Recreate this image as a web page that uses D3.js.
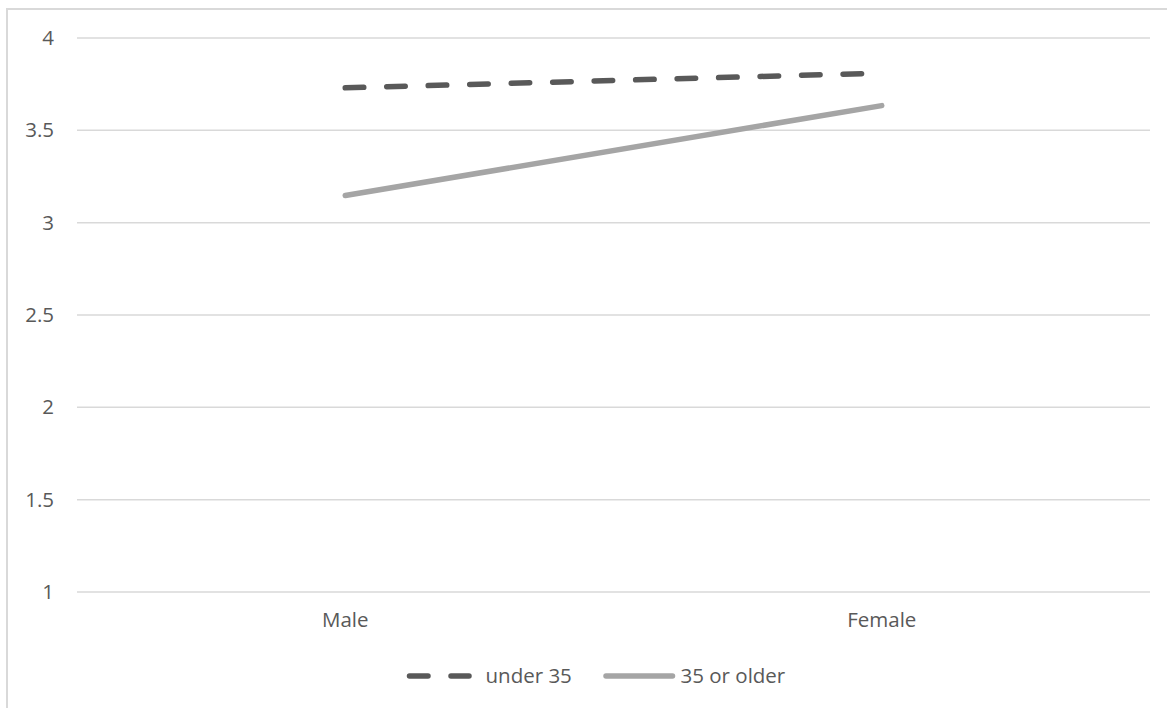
<!DOCTYPE html>
<html><head><meta charset="utf-8">
<script src="https://cdn.jsdelivr.net/npm/d3@7"></script>
<style>html,body{margin:0;padding:0;background:#fff;}</style>
</head><body>
<svg id="c" width="1167" height="708"></svg>
<script>
const categories = ["Male", "Female"];
const seriesNames = ["under 35", "35 or older"];
const under35 = [3.73, 3.81];
const older35 = [3.147, 3.634];
const yTicks = [1, 1.5, 2, 2.5, 3, 3.5, 4];

const svg = d3.select("#c");
const font = "'Open Sans', sans-serif";
const textColor = "#595959";
const fs = 20.5;

// border
svg.append("rect").attr("x", 7).attr("y", 9).attr("width", 1200).attr("height", 800)
  .attr("fill", "none").attr("stroke", "#D9D9D9").attr("stroke-width", 2);

const x = d3.scaleBand().domain(categories).range([77, 1150]).paddingInner(0).paddingOuter(0);
const y = d3.scaleLinear().domain([1, 4]).range([592, 38]);

// gridlines
svg.append("g").selectAll("line").data(yTicks).join("line")
  .attr("x1", 77).attr("x2", 1150)
  .attr("y1", d => y(d)).attr("y2", d => y(d))
  .attr("stroke", "#D9D9D9").attr("stroke-width", 1.5);

// y axis labels
const yAxis = d3.axisLeft(y).tickValues(yTicks).tickSize(0).tickPadding(0).tickFormat(d3.format("~g"));
const ya = svg.append("g").attr("transform", "translate(54,0)").call(yAxis);
ya.select(".domain").remove();
ya.selectAll("text").attr("font-family", font).attr("font-size", fs).attr("fill", textColor);

// x axis labels
const xAxis = d3.axisBottom(x).tickSize(0).tickPadding(0);
const xa = svg.append("g").attr("transform", "translate(0,612)").call(xAxis);
xa.select(".domain").remove();
xa.selectAll("text").attr("font-family", font).attr("font-size", fs).attr("fill", textColor);

const cx = d => x(d) + x.bandwidth() / 2;
const line = d3.line().x((d, i) => cx(categories[i])).y(d => y(d));

const styles = [
  { data: under35, color: "#595959", dash: "18.5,23" },
  { data: older35, color: "#A5A5A5", dash: null }
];

styles.forEach(s => {
  svg.append("path").datum(s.data).attr("d", line)
    .attr("fill", "none").attr("stroke", s.color).attr("stroke-width", 5.5)
    .attr("stroke-linecap", "round").attr("stroke-dasharray", s.dash);
});

// legend
const legend = svg.append("g");
const legItems = [
  { name: seriesNames[0], color: "#595959", dash: "18.5,23", x1: 409.5, x2: 469, tx: 485.5 },
  { name: seriesNames[1], color: "#A5A5A5", dash: null, x1: 606, x2: 672.5, tx: 680.5 }
];
legItems.forEach(it => {
  legend.append("line").attr("x1", it.x1).attr("x2", it.x2).attr("y1", 676).attr("y2", 676)
    .attr("stroke", it.color).attr("stroke-width", 5.5).attr("stroke-linecap", "round")
    .attr("stroke-dasharray", it.dash);
  legend.append("text").attr("x", it.tx).attr("y", 676).attr("dy", "0.35em")
    .attr("font-family", font).attr("font-size", fs).attr("fill", textColor).text(it.name);
});
</script>
</body></html>
